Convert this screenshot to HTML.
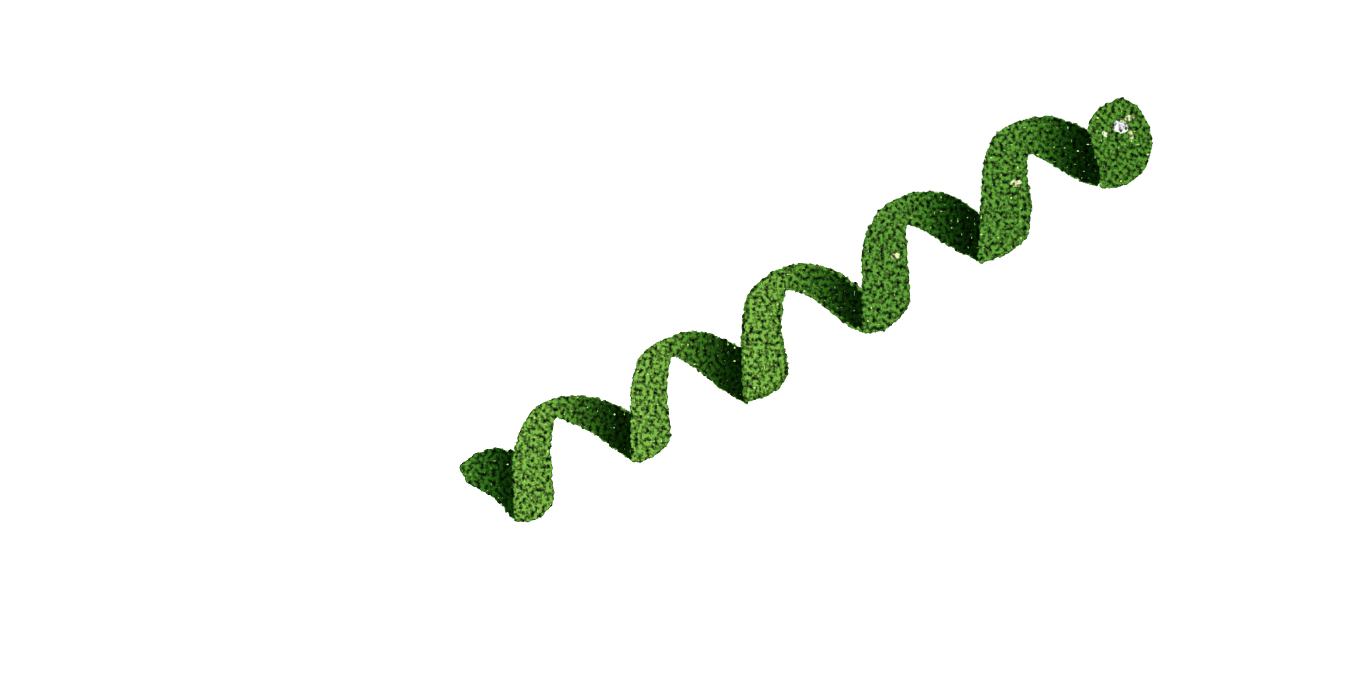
<!DOCTYPE html>
<html lang="en">
<head>
<meta charset="utf-8">
<title>Green spiral ribbon</title>
<style>
html,body{margin:0;padding:0;background:#fff;width:1366px;height:684px;overflow:hidden}
svg{display:block}
.seg{stroke-width:3;stroke-linejoin:round}
</style>
</head>
<body>
<svg xmlns="http://www.w3.org/2000/svg" width="1366" height="684" viewBox="0 0 1366 684">
<defs>
<linearGradient id="arch" x1="0" y1="0" x2="1" y2="0">
<stop offset="0" stop-color="#78b244"/>
<stop offset=".3" stop-color="#70aa3e"/>
<stop offset=".48" stop-color="#4f8a2a"/>
<stop offset=".68" stop-color="#285a14"/>
<stop offset=".85" stop-color="#0c2c05"/>
<stop offset="1" stop-color="#0a2604"/>
</linearGradient>
<linearGradient id="archDeep" x1="0" y1="0" x2="1" y2="0">
<stop offset="0" stop-color="#5c9a36"/>
<stop offset=".35" stop-color="#589432"/>
<stop offset=".52" stop-color="#3f7c22"/>
<stop offset=".68" stop-color="#1c4a0e"/>
<stop offset=".85" stop-color="#082404"/>
<stop offset="1" stop-color="#0a2604"/>
</linearGradient>
<linearGradient id="tail" x1="0" y1="0" x2="1" y2="0">
<stop offset="0" stop-color="#569a30"/>
<stop offset=".5" stop-color="#2a6216"/>
<stop offset=".8" stop-color="#0f3408"/>
<stop offset="1" stop-color="#153f0a"/>
</linearGradient>
<linearGradient id="knob" x1="0" y1="0" x2="1" y2="1">
<stop offset="0" stop-color="#5a9632"/>
<stop offset="1" stop-color="#4c8a2a"/>
</linearGradient>
<filter id="glitter" filterUnits="userSpaceOnUse" x="0" y="0" width="1366" height="684" color-interpolation-filters="sRGB">
<feTurbulence type="fractalNoise" baseFrequency="0.2" numOctaves="2" seed="7" result="edgeNoise"/>
<feDisplacementMap in="SourceGraphic" in2="edgeNoise" scale="4" xChannelSelector="R" yChannelSelector="G" result="rough"/>
<feTurbulence type="fractalNoise" baseFrequency="0.26" numOctaves="2" seed="3"/>
<feColorMatrix type="matrix" values="2.4 0 0 0 -0.5  2.4 0 0 0 -0.5  2.4 0 0 0 -0.5  0 0 0 0 1" result="grain"/>
<feComposite in="rough" in2="grain" operator="arithmetic" k1="1.0" k2="0.1" k3="0" k4="0" result="textured"/>
<feTurbulence type="fractalNoise" baseFrequency="0.3" numOctaves="1" seed="11"/>
<feColorMatrix type="matrix" values="0 0 0 0 0.82  0 0 0 0 0.92  0 0 0 0 0.6  9 0 0 0 -6.2" result="sparkle"/>
<feComposite in="sparkle" in2="rough" operator="in" result="sparkleClip"/>
<feMerge>
<feMergeNode in="textured"/>
<feMergeNode in="sparkleClip"/>
</feMerge>
</filter>
</defs>
<rect width="1366" height="684" fill="#ffffff"/>
<g filter="url(#glitter)">
<g transform="translate(450 320) scale(.33333)">
<path class="seg" fill="url(#tail)" stroke="#2f6a18" data-pts="32,440 55,418 80,400 135,385 165,392 192,405 200,585 185,592 160,560 130,530 60,490 40,465"/>
<path class="seg" fill="url(#arch)" stroke="#4f8a2a" data-pts="195,595 190,500 190,420 205,350 250,270 320,235 400,228 470,245 545,285 550,350 550,418 500,390 430,340 370,310 315,295 300,380 305,460 308,545 270,590 230,605"/>
<path class="seg" fill="url(#arch)" stroke="#4f8a2a" data-pts="545,420 543,350 543,280 545,200 570,110 640,60 720,35 790,45 885,95 888,170 890,238 870,240 800,195 730,140 665,110 650,200 655,280 660,350 630,395 570,425"/>
</g>
<g>
<path class="seg" fill="url(#arch)" stroke="#4f8a2a" data-pts="745,400 743,365 743,330 748,298 770,275 800,265 830,270 850,282 867,296 868,315 868,332 850,325 830,310 810,295 785,290 780,330 787,370 775,390 750,400"/>
</g>
<g transform="translate(800 90) scale(.33333)">
<path class="seg" fill="url(#archDeep)" stroke="#3f7c22" data-pts="190,722 188,620 188,500 200,430 240,360 320,315 400,305 470,325 548,385 549,450 550,512 490,490 420,450 370,420 320,405 320,490 328,630 300,680 250,720"/>
<path class="seg" fill="url(#archDeep)" stroke="#3f7c22" data-pts="535,512 540,400 545,300 555,210 590,130 660,95 740,80 800,95 870,130 905,240 890,285 830,265 760,225 690,190 680,250 692,340 680,440 620,490 570,510"/>
<path class="seg" fill="url(#knob)" stroke="#4c8a2a" data-pts="868,100 900,55 960,27 1010,50 1045,110 1055,165 1030,240 970,285 905,290 900,240 875,160"/>
<ellipse cx="960" cy="110" rx="24" ry="20" fill="#ffffff"/>
<ellipse cx="987" cy="84" rx="14" ry="9" fill="#dbe8b0"/>
<ellipse cx="916" cy="131" rx="9" ry="9" fill="#e8f0c8"/>
<ellipse cx="992" cy="135" rx="8" ry="14" fill="#d2e2a0"/>
<ellipse cx="648" cy="278" rx="16" ry="12" fill="#d8e6ac"/>
<ellipse cx="288" cy="498" rx="14" ry="9" fill="#d8e6ac"/>
</g>
</g>
<script>
var segs = document.querySelectorAll('path[data-pts]');
for (var s = 0; s < segs.length; s++) {
  var pts = segs[s].getAttribute('data-pts').split(' ').map(function (p) { return p.split(',').map(Number); });
  var n = pts.length;
  var d = 'M' + pts[0][0] + ' ' + pts[0][1];
  for (var i = 0; i < n; i++) {
    var p0 = pts[(i - 1 + n) % n], p1 = pts[i], p2 = pts[(i + 1) % n], p3 = pts[(i + 2) % n];
    var c1x = p1[0] + (p2[0] - p0[0]) / 8, c1y = p1[1] + (p2[1] - p0[1]) / 8;
    var c2x = p2[0] - (p3[0] - p1[0]) / 8, c2y = p2[1] - (p3[1] - p1[1]) / 8;
    d += 'C' + c1x + ' ' + c1y + ' ' + c2x + ' ' + c2y + ' ' + p2[0] + ' ' + p2[1];
  }
  segs[s].setAttribute('d', d + 'Z');
}
</script>
</svg>
</body>
</html>
